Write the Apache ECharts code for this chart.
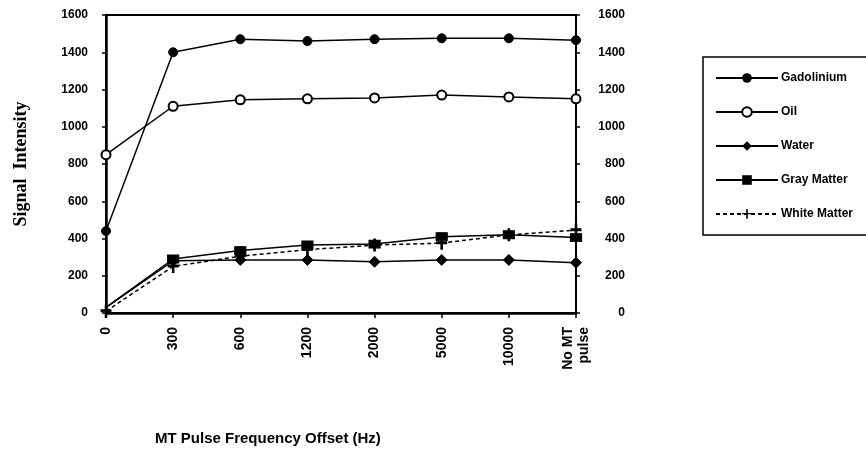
<!DOCTYPE html>
<html>
<head>
<meta charset="utf-8">
<script src="https://cdn.jsdelivr.net/npm/echarts@6/dist/echarts.min.js"></script>
<style>
  html, body { margin: 0; padding: 0; background: #fff; }
  #chart { width: 866px; height: 450px; }
</style>
</head>
<body>
<div id="chart"></div>
<script>
const categories = ['0', '300', '600', '1200', '2000', '5000', '10000', 'No MT\npulse'];
const gadolinium = [440, 1400, 1470, 1460, 1470, 1475, 1475, 1465];
const oil = [850, 1110, 1145, 1150, 1155, 1170, 1160, 1150];
const water = [30, 280, 285, 285, 275, 285, 285, 270];
const grayMatter = [30, 290, 335, 365, 370, 410, 420, 405];
const whiteMatter = [10, 250, 305, 340, 365, 375, 420, 445];
const yTicks = { min: 0, max: 1600, interval: 200 };

const plusPath = 'path://M4,0 H6 V5 H11 V7 H6 V13 H4 V7 H-1 V5 H4 Z';

const chart = echarts.init(document.getElementById('chart'));

const axisFont = { fontFamily: 'Liberation Sans, Arial, sans-serif', fontWeight: 'bold', color: '#000' };

// first point of water / gray matter has no visible marker in the original
function hideFirst(arr) {
  return arr.map((v, i) => (i === 0 ? { value: v, symbol: 'none' } : v));
}

function lineSeries(name, data, symbol, size, opts) {
  return Object.assign({
    name: name,
    type: 'line',
    data: data,
    symbol: symbol,
    symbolSize: size,
    showAllSymbol: true,
    lineStyle: { color: '#000', width: 1.5 },
    itemStyle: { color: '#000', borderColor: '#000' },
    emphasis: { disabled: true },
    animation: false
  }, opts || {});
}

const option = {
  animation: false,
  title: {
    text: 'MT Pulse Frequency Offset (Hz)',
    left: 150,
    top: 426,
    textStyle: Object.assign({}, axisFont, { fontSize: 15 })
  },
  grid: {
    left: 106,
    right: 290,
    top: 15,
    bottom: 137,
    show: true,
    borderColor: '#000',
    borderWidth: 2
  },
  legend: {
    orient: 'vertical',
    left: 703,
    top: 57,
    padding: [15, 60, 15, 12],
    itemGap: 22,
    itemWidth: 62,
    itemHeight: 12,
    borderColor: '#000',
    borderWidth: 1.5,
    textStyle: Object.assign({}, axisFont, { fontSize: 12, padding: [0, 0, 0, -2] }),
    data: ['Gadolinium', 'Oil', 'Water', 'Gray Matter', 'White Matter']
  },
  xAxis: {
    type: 'category',
    data: categories,
    boundaryGap: false,
    axisLine: { lineStyle: { color: '#000', width: 2.5 } },
    axisTick: { alignWithLabel: true, length: 5, lineStyle: { color: '#000', width: 1.5 } },
    axisLabel: Object.assign({}, axisFont, { rotate: 90, fontSize: 14, margin: 14, lineHeight: 16 })
  },
  yAxis: [
    {
      type: 'value',
      min: yTicks.min,
      max: yTicks.max,
      interval: yTicks.interval,
      position: 'left',
      name: 'Signal  Intensity',
      nameLocation: 'middle',
      nameGap: 76,
      nameTextStyle: { fontFamily: 'Liberation Serif, Times New Roman, serif', fontWeight: 'bold', fontSize: 18, color: '#000' },
      splitLine: { show: false },
      axisLine: { show: true, lineStyle: { color: '#000', width: 2.5 } },
      axisTick: { show: true, length: 4, lineStyle: { color: '#000', width: 1.5 } },
      axisLabel: Object.assign({}, axisFont, { fontSize: 12, margin: 18, formatter: v => String(v) })
    },
    {
      type: 'value',
      min: yTicks.min,
      max: yTicks.max,
      interval: yTicks.interval,
      position: 'right',
      splitLine: { show: false },
      axisLine: { show: true, lineStyle: { color: '#000', width: 2 } },
      axisTick: { show: true, length: 4, lineStyle: { color: '#000', width: 1.5 } },
      axisLabel: Object.assign({}, axisFont, { fontSize: 12, margin: 49, align: 'right', formatter: v => String(v) })
    }
  ],
  series: [
    lineSeries('Gadolinium', gadolinium, 'circle', 9),
    lineSeries('Oil', oil, 'emptyCircle', 9, { itemStyle: { color: '#000', borderColor: '#000', borderWidth: 1.5 } }),
    lineSeries('Water', hideFirst(water), 'diamond', 11),
    lineSeries('Gray Matter', hideFirst(grayMatter), 'rect', [11, 8]),
    lineSeries('White Matter', whiteMatter, plusPath, [10, 12], { lineStyle: { color: '#000', width: 1.5, type: [4, 3] } })
  ]
};

chart.setOption(option);
</script>
</body>
</html>
